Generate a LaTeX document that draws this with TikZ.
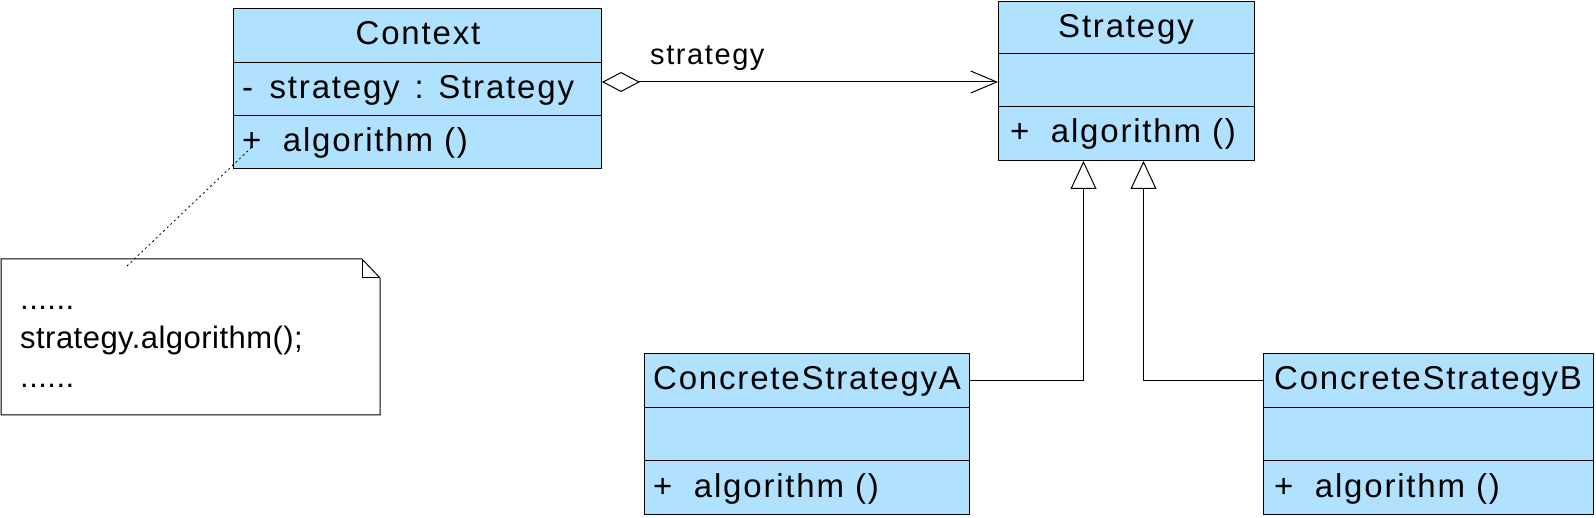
\documentclass[tikz,border=0pt]{standalone}
\usepackage{fontspec}
\setmainfont{Liberation Sans}
\newfontfamily\umlfont[LetterSpace=5.5]{Liberation Sans}
\newfontfamily\notefont[LetterSpace=1.5]{Liberation Sans}
\usetikzlibrary{arrows.meta}
\definecolor{umlblue}{RGB}{176,226,255}
\tikzset{
  cmp/.style={draw=black, fill=umlblue, line width=1pt, anchor=north west, inner sep=0pt},
  txt/.style={inner sep=0pt, font=\umlfont\fontsize{33}{40}\selectfont},
  ntxt/.style={inner sep=0pt, font=\notefont\fontsize{31}{38}\selectfont},
  assoc/.style={line width=1pt, {Diamond[open,fill=white,length=38pt,width=20pt,line width=1pt]}-{Straight Barb[length=26pt,width=22pt,line width=1pt]}},
  inh/.style={line width=1pt, -{Triangle[open,fill=white,length=28pt,width=26pt,line width=1pt]}},
  notelink/.style={line width=0.8pt, dash pattern=on 2pt off 3pt}
}
\newcommand{\plus}{+\hspace{0.65em}}
\begin{document}
\begin{tikzpicture}[x=1pt,y=-1pt]
\useasboundingbox (0,0) rectangle (1596,518);
% Context
\node[cmp, minimum width=368pt, minimum height=54pt] (ctxH) at (233,8) {};
\node[cmp, minimum width=368pt, minimum height=53pt] (ctxA) at (233,62) {};
\node[cmp, minimum width=368pt, minimum height=53pt] (ctxO) at (233,115) {};
\node[txt, anchor=base] (ctxHt) at (418,45) {Context};
\node[txt, anchor=base west] (ctxAt) at (242,99) {-\hspace{0.5em}strategy\hspace{0.45em}: Strategy};
\node[txt, anchor=base west] (ctxOt) at (242,152) {\plus algorithm ()};
% Strategy
\node[cmp, minimum width=256pt, minimum height=52pt] (stratH) at (998,1) {};
\node[cmp, minimum width=256pt, minimum height=53pt] (stratA) at (998,53) {};
\node[cmp, minimum width=256pt, minimum height=54pt] (stratO) at (998,106) {};
\node[txt, anchor=base] (stratHt) at (1126,38) {Strategy};
\node[txt, anchor=base west] (stratOt) at (1010,143) {\plus algorithm ()};
% ConcreteStrategyA
\node[cmp, minimum width=325pt, minimum height=54pt] (csaH) at (644,353) {};
\node[cmp, minimum width=325pt, minimum height=53pt] (csaA) at (644,407) {};
\node[cmp, minimum width=325pt, minimum height=54pt] (csaO) at (644,460) {};
\node[txt, anchor=base west] (csaHt) at (653,390) {ConcreteStrategyA};
\node[txt, anchor=base west] (csaOt) at (653,497) {\plus algorithm ()};
% ConcreteStrategyB
\node[cmp, minimum width=330pt, minimum height=54pt] (csbH) at (1263,353) {};
\node[cmp, minimum width=330pt, minimum height=53pt] (csbA) at (1263,407) {};
\node[cmp, minimum width=330pt, minimum height=54pt] (csbO) at (1263,460) {};
\node[txt, anchor=base west] (csbHt) at (1274,390) {ConcreteStrategyB};
\node[txt, anchor=base west] (csbOt) at (1274,497) {\plus algorithm ()};
% Note
\draw[line width=1pt] (1,259) -- (362,259) -- (380,278) -- (380,415) -- (1,415) -- cycle;
\draw[line width=1pt] (362,259) -- (362,278) -- (380,278);
\node[ntxt, anchor=base west] (n1) at (20,310) {......};
\node[ntxt, anchor=base west] (n2) at (20,349) {strategy.algorithm();};
\node[ntxt, anchor=base west] (n3) at (20,388) {......};
\coordinate (noteTop) at (127,266);
\coordinate (ctxAnchor) at (253,146);
\draw[notelink] (noteTop) -- (ctxAnchor);
% Association
\coordinate (aggy) at (0,82);
\draw[assoc] (ctxA.east |- aggy) -- (stratA.west |- aggy);
\node[txt, anchor=base west] (assocLbl) at (650,65) {\fontsize{29}{34}\selectfont strategy};
% Generalizations
\coordinate (gA) at ([xshift=-43pt]stratO.south);
\coordinate (gB) at ([xshift=17pt]stratO.south);
\draw[inh] (csaH.east) -| (gA);
\draw[inh] (csbH.west) -| (gB);
\end{tikzpicture}
\end{document}
